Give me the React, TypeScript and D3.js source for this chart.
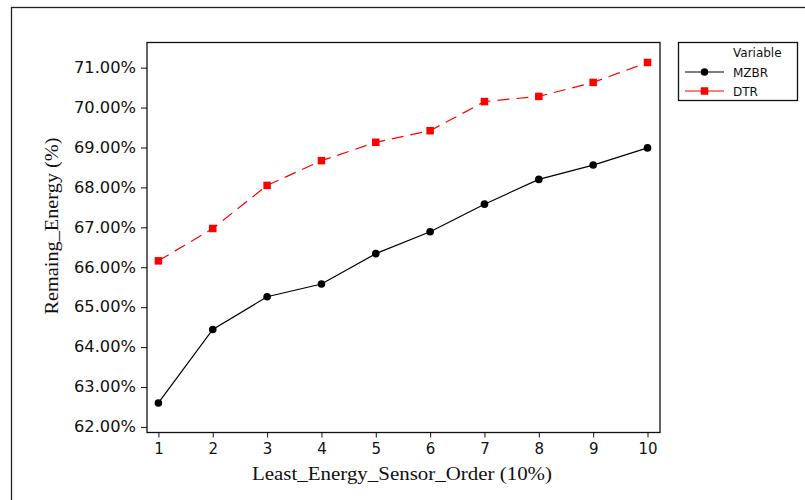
import React, { useEffect, useRef } from 'react'
import * as d3 from 'd3'

const orders = [1, 2, 3, 4, 5, 6, 7, 8, 9, 10]
const mzbr = [62.6, 64.44, 65.26, 65.58, 66.34, 66.89, 67.58, 68.2, 68.56, 68.99]
const dtr = [66.16, 66.97, 68.05, 68.67, 69.13, 69.42, 70.15, 70.28, 70.63, 71.13]
const yTicks = [62, 63, 64, 65, 66, 67, 68, 69, 70, 71]
const seriesNames = ['MZBR', 'DTR']

const sansFont = '"DejaVu Sans", Verdana, sans-serif'
const serifFont = '"Liberation Serif", "Times New Roman", serif'

export default function App() {
  const ref = useRef<SVGSVGElement>(null)

  useEffect(() => {
    const svg = d3.select(ref.current)
    svg.selectAll('*').remove()

    const left = 147, right = 660, top = 42.5, bottom = 432.5

    const x = d3.scaleLinear().domain([0.79, 10.23]).range([left, right])
    const y = d3.scaleLinear().domain([61.86, 71.63]).range([bottom, top])

    // outer frame (runs off the page to the right and bottom)
    svg.append('rect')
      .attr('x', 11.5).attr('y', 7.5)
      .attr('width', 820).attr('height', 520)
      .attr('fill', 'none').attr('stroke', '#222').attr('stroke-width', 1.3)

    // plot box
    svg.append('rect')
      .attr('x', left).attr('y', top)
      .attr('width', right - left).attr('height', bottom - top)
      .attr('fill', 'white').attr('stroke', '#111').attr('stroke-width', 1.3)

    const yAxis = svg.append('g')
      .attr('transform', 'translate(' + left + ',0)')
      .call(d3.axisLeft(y).tickValues(yTicks).tickSize(6).tickPadding(5)
        .tickSizeOuter(0)
        .tickFormat((d: any) => (+d).toFixed(2) + '%'))
    yAxis.select('.domain').remove()
    yAxis.selectAll('text')
      .attr('font-family', sansFont).attr('font-size', 15).attr('fill', '#111')
      .attr('textLength', 62).attr('lengthAdjust', 'spacingAndGlyphs')
    yAxis.selectAll('line').attr('stroke', '#111')

    const xAxis = svg.append('g')
      .attr('transform', 'translate(0,' + bottom + ')')
      .call(d3.axisBottom(x).tickValues(orders).tickSize(5).tickPadding(6)
        .tickSizeOuter(0)
        .tickFormat((d: any) => String(d)))
    xAxis.select('.domain').remove()
    xAxis.selectAll('text')
      .attr('font-family', sansFont).attr('font-size', 15).attr('fill', '#111')
    xAxis.selectAll('line').attr('stroke', '#111')

    // axis titles
    svg.append('text')
      .attr('x', 402).attr('y', 480)
      .attr('text-anchor', 'middle')
      .attr('font-family', serifFont).attr('font-size', 19).attr('fill', '#111')
      .attr('textLength', 300).attr('lengthAdjust', 'spacingAndGlyphs')
      .text('Least_Energy_Sensor_Order (10%)')

    svg.append('text')
      .attr('transform', 'translate(58,226) rotate(-90)')
      .attr('text-anchor', 'middle')
      .attr('font-family', serifFont).attr('font-size', 19).attr('fill', '#111')
      .attr('textLength', 177).attr('lengthAdjust', 'spacingAndGlyphs')
      .text('Remaing_Energy (%)')

    const line = d3.line<number>()
      .x((d, i) => x(orders[i]))
      .y(d => y(d))

    // DTR series
    svg.append('path')
      .datum(dtr)
      .attr('d', line)
      .attr('fill', 'none').attr('stroke', '#ff0000').attr('stroke-width', 1.2)
      .attr('stroke-dasharray', '12,7')
    svg.selectAll('.dtr')
      .data(dtr)
      .enter().append('rect')
      .attr('class', 'dtr')
      .attr('x', (d, i) => x(orders[i]) - 3.75)
      .attr('y', d => y(d) - 3.75)
      .attr('width', 7.5).attr('height', 7.5)
      .attr('fill', '#ff0000')

    // MZBR series
    svg.append('path')
      .datum(mzbr)
      .attr('d', line)
      .attr('fill', 'none').attr('stroke', '#000').attr('stroke-width', 1.2)
    svg.selectAll('.mzbr')
      .data(mzbr)
      .enter().append('circle')
      .attr('class', 'mzbr')
      .attr('cx', (d, i) => x(orders[i]))
      .attr('cy', d => y(d))
      .attr('r', 3.8)
      .attr('fill', '#000')

    // legend
    const lg = svg.append('g')
    lg.append('rect')
      .attr('x', 678.5).attr('y', 42.5)
      .attr('width', 119).attr('height', 58)
      .attr('fill', 'white').attr('stroke', '#111').attr('stroke-width', 1.3)
    lg.append('text')
      .attr('x', 733).attr('y', 57)
      .attr('font-family', sansFont).attr('font-size', 12).attr('fill', '#111')
      .text('Variable')
    seriesNames.forEach((name, i) => {
      const yy = 72 + i * 19
      const col = i === 0 ? '#000' : '#ff0000'
      lg.append('line')
        .attr('x1', 685).attr('x2', 724).attr('y1', yy).attr('y2', yy)
        .attr('stroke', col).attr('stroke-width', 1.2)
      if (i === 0) {
        lg.append('circle').attr('cx', 704.5).attr('cy', yy).attr('r', 3.8).attr('fill', col)
      } else {
        lg.append('rect').attr('x', 700.75).attr('y', yy - 3.75)
          .attr('width', 7.5).attr('height', 7.5).attr('fill', col)
      }
      lg.append('text')
        .attr('x', 733).attr('y', yy + 4.5)
        .attr('font-family', sansFont).attr('font-size', 12).attr('fill', '#111')
        .text(name)
    })
  }, [])

  return (
    <div id="chart">
      <svg ref={ref} width={805} height={500}
        style={{ position: 'absolute', left: 0, top: 0, background: 'white' }}></svg>
    </div>
  )
}
